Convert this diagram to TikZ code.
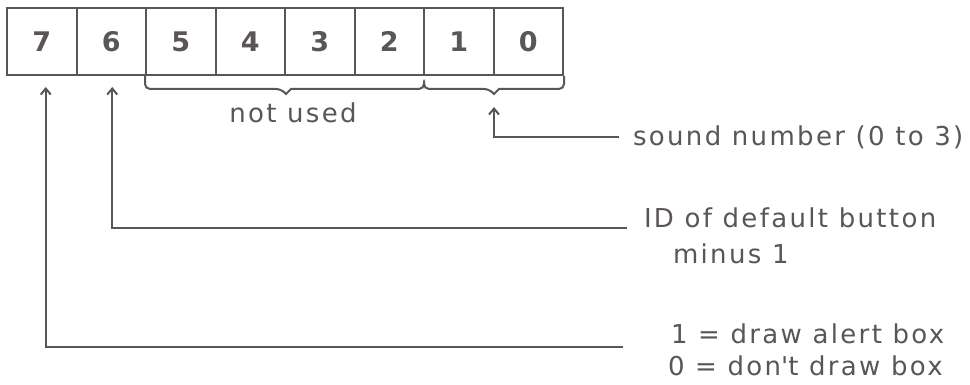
\documentclass[tikz,border=0pt]{standalone}
\usepackage{fontspec}
\setmainfont{DejaVu Sans}
\newfontfamily\spaced{DejaVu Sans}[LetterSpace=9]
\usetikzlibrary{arrows.meta}
\definecolor{ink}{HTML}{5A5556}
\begin{document}
\begin{tikzpicture}[
  x=1pt,
  y=-1pt,
  line width=2pt,
  draw=ink,
  text=ink,
  bitbox/.style={draw=ink, minimum width=69.5pt, minimum height=67pt, inner sep=0pt,
    font=\fontsize{27}{27}\selectfont\bfseries},
  brace/.style={draw=ink, rounded corners=5pt},
  arr/.style={draw=ink, -{Straight Barb[length=6pt, width=10pt, line width=2pt]}},
  label/.style={anchor=base west, inner sep=0pt, font=\spaced\fontsize{26}{30}\selectfont}
]
\useasboundingbox (0,0) rectangle (970,385);

% the eight bits
\foreach \b [count=\i from 0] in {7,6,5,4,3,2,1,0} {
  \node[bitbox] (b\b) at (41.75+69.5*\i,41.5) {\b};
}

% braces under bits 5-2 and 1-0
\draw[brace] (b5.south west) |- (281,89) [sharp corners] -- (286,94) coordinate (tipA) -- (291,89)
  [rounded corners=5pt] -| (424,80) |- (489,89) [sharp corners] -- (494,94) coordinate (tipB)
  -- (499,89) [rounded corners=5pt] -| (b0.south east);
\node[label, anchor=base] (unused) at (293,123) {not used};

% labels
\node[label] (sound) at (632,146) {sound number (0 to 3)};
\node[label] (defid) at (643,227) {ID of default button};
\node[label] (minus) at (672,263) {minus 1};
\node[label] (alert) at (670,343) {1 = draw alert box};
\node[label] (noalert) at (667,375) {0 = don\textquotesingle t draw box};

% connectors
\coordinate (endS) at (619,137);
\coordinate (end6) at (627,228);
\coordinate (end7) at (623,347);
\draw[arr, shorten >=13pt] (endS) -| (tipB);
\draw[arr, shorten >=11pt] (end6) -| ([xshift=1pt]b6.south);
\draw[arr, shorten >=11pt] (end7) -| ([xshift=4pt]b7.south);
\end{tikzpicture}
\end{document}
